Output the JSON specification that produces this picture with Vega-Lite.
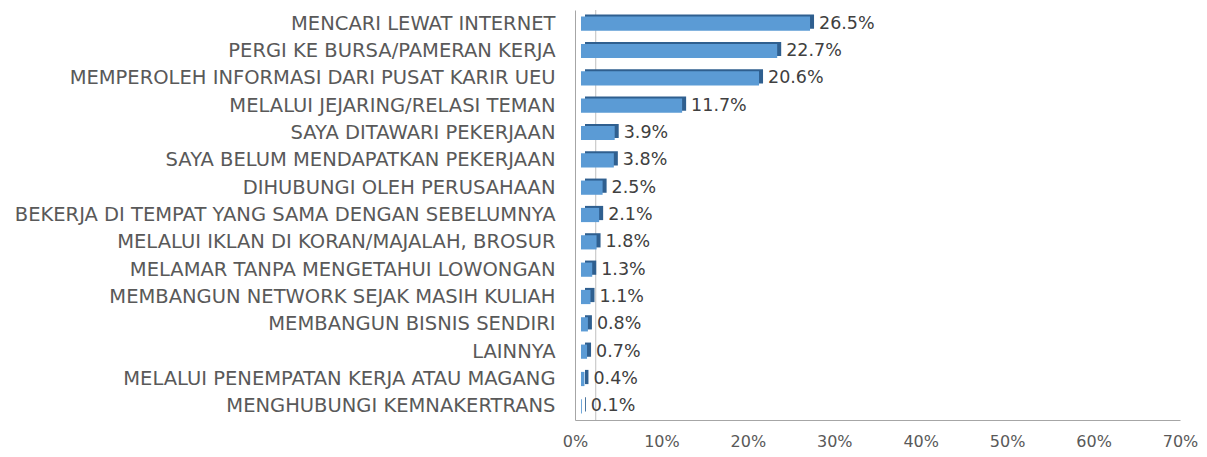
{
  "$schema": "https://vega.github.io/schema/vega-lite/v6.json",
  "autosize": "none",
  "width": 605,
  "height": 410,
  "padding": {"left": 575, "top": 10, "right": 27, "bottom": 37},
  "background": "white",
  "view": {"stroke": null},
  "datasets": {
    "main": [
      {"k": "MENCARI LEWAT INTERNET", "v": 0.265},
      {"k": "PERGI KE BURSA/PAMERAN KERJA", "v": 0.227},
      {"k": "MEMPEROLEH INFORMASI DARI PUSAT KARIR UEU", "v": 0.206},
      {"k": "MELALUI  JEJARING/RELASI TEMAN", "v": 0.117},
      {"k": "SAYA DITAWARI PEKERJAAN", "v": 0.039},
      {"k": "SAYA BELUM MENDAPATKAN PEKERJAAN", "v": 0.038},
      {"k": "DIHUBUNGI OLEH PERUSAHAAN", "v": 0.025},
      {"k": "BEKERJA DI TEMPAT YANG SAMA DENGAN SEBELUMNYA", "v": 0.021},
      {"k": "MELALUI IKLAN DI KORAN/MAJALAH, BROSUR", "v": 0.018},
      {"k": "MELAMAR TANPA MENGETAHUI LOWONGAN", "v": 0.013},
      {"k": "MEMBANGUN NETWORK SEJAK MASIH KULIAH", "v": 0.011},
      {"k": "MEMBANGUN BISNIS SENDIRI", "v": 0.008},
      {"k": "LAINNYA", "v": 0.007},
      {"k": "MELALUI PENEMPATAN KERJA ATAU MAGANG", "v": 0.004},
      {"k": "MENGHUBUNGI KEMNAKERTRANS", "v": 0.001}
    ],
    "wall": [{"w": 0.024}]
  },
  "layer": [
    {"data": {"name": "wall"}, "mark": {"type": "rule", "color": "#bfbfbf"},
     "encoding": {"x": {"field": "w", "type": "quantitative", "scale": {"domain": [0, 0.7]}, "title": null}}},
    {"data": {"name": "main"},
     "encoding": {
       "y": {"field": "k", "type": "nominal", "sort": null, "title": null,
         "scale": {"paddingInner": 0.48, "paddingOuter": 0.24},
         "axis": {"domainColor": "#a6a6a6", "ticks": false, "labelPadding": 20, "labelLimit": 700,
           "labelFont": "DejaVu Sans", "labelFontSize": 19.5, "labelColor": "#595959"}},
       "x": {"field": "v", "type": "quantitative", "title": null,
         "scale": {"domain": [0, 0.7]},
         "axis": {"format": "%", "values": [0, 0.1, 0.2, 0.3, 0.4, 0.5, 0.6, 0.7], "grid": false, "ticks": false, "labelFlush": false,
           "domainColor": "#a6a6a6", "labelPadding": 13, "labelFont": "DejaVu Sans", "labelFontSize": 16, "labelColor": "#595959"}}
     },
     "layer": [
       {"mark": {"type": "bar", "color": "#2f5f8f", "xOffset": 10, "yOffset": -2}},
       {"mark": {"type": "bar", "color": "#5b9bd5", "xOffset": 6}},
       {"mark": {"type": "text", "align": "left", "dx": 15, "font": "DejaVu Sans", "fontSize": 17.5, "color": "#404040"},
        "encoding": {"text": {"field": "v", "type": "quantitative", "format": ".1%"}}}
     ]
    }
  ]
}
